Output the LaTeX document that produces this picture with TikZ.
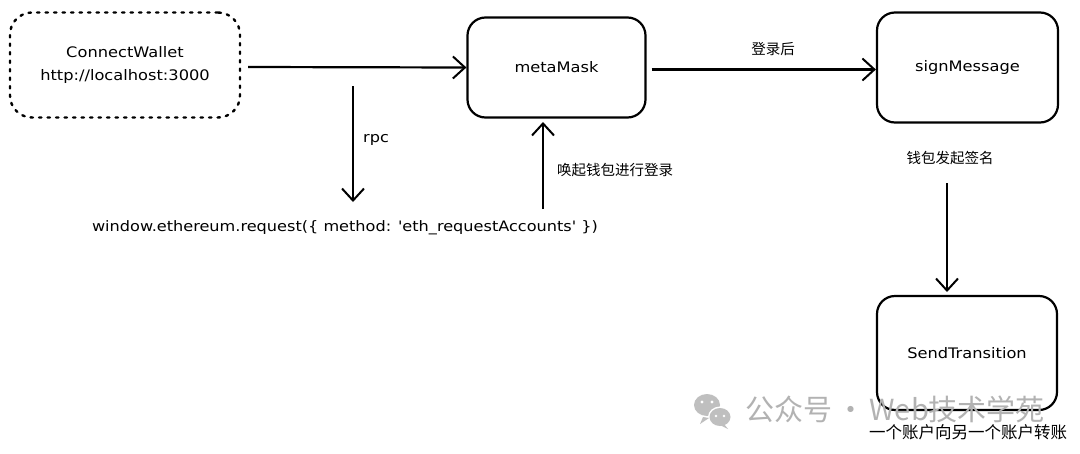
\documentclass[tikz,border=0pt]{standalone}
\usepackage{fontspec}
\newfontfamily\lat{DejaVu Sans}[FakeStretch=1.12]
\newfontfamily\cjk{Noto Sans CJK SC}
\usetikzlibrary{arrows.meta}
\tikzset{
  box/.style={draw, line width=2.2pt, rounded corners=18pt, minimum width=178pt, minimum height=100pt, font=\fontsize{14.5}{16}\selectfont\lat},
  dotbox/.style={draw, line width=2.4pt, dash pattern=on 2.5pt off 6pt, line cap=round, rounded corners=22pt, minimum width=230pt, minimum height=105pt, font=\fontsize{14.5}{23}\selectfont\lat, align=center},
  conn/.style={line width=2.2pt, -{Straight Barb[length=12pt,width=22pt,line width=2pt]}},
  lbl/.style={font=\fontsize{14.5}{16}\selectfont\cjk},
  code/.style={font=\fontsize{14.4}{16}\selectfont\lat},
  wm/.style={text=black!30, font=\fontsize{29}{30}\selectfont\cjk}
}
\begin{document}
\begin{tikzpicture}[x=1pt,y=-1pt]
\useasboundingbox (0,0) rectangle (1080,453);
\fill[white] (0,0) rectangle (1080,453);
% nodes
\node[dotbox] (cw) at (125,65) {ConnectWallet\\http://localhost:3000};
\node[box] (mm) at (556.5,67.5) {metaMask};
\node[box, minimum width=181pt, minimum height=110pt] (sm) at (967.5,67.5) {signMessage};
\node[box, minimum width=180pt, minimum height=114pt] (st) at (967,353) {SendTransition};
\node[code] (req) at (345,228) {window.ethereum.request(\{ method: 'eth\_requestAccounts' \})};
% label nodes
\node[lbl] (l1) at (773,49) {登录后};
\node[lbl] (l2) at (950,158) {钱包发起签名};
\node[code] (l3) at (376,140) {rpc};
\node[lbl] (l4) at (615,170) {唤起钱包进行登录};
\node[lbl, font=\fontsize{16.5}{18}\selectfont\cjk] (l5) at (968,432) {一个账户向另一个账户转账};
% connector anchors
\coordinate (rpcA) at (353,86);
\coordinate (rpcB) at (353,202);
\coordinate (upA) at (543,209);
\coordinate (upB) at (543,122);
\coordinate (dnA) at (947,183);
\coordinate (dnB) at (947,292);
% connectors
\draw[conn] (cw.east) ++(7,2) -- (mm.west);
\draw[conn] (mm.east) ++(5,2) -- ([yshift=-2pt]sm.west);
\draw[conn] (rpcA) -- (rpcB);
\draw[conn] (upA) -- (upB);
\draw[conn] (dnA) -- (dnB);
% watermark
\fill[black!25] (707,405) ellipse (13pt and 11pt);
\fill[white] (720,417) ellipse (12pt and 10.5pt);
\fill[black!25] (720,417) ellipse (10.5pt and 9pt);
\fill[black!25] (703,417) -- (700,424) -- (709,418) -- cycle;
\fill[black!25] (724,424) -- (728,429) -- (720,425) -- cycle;
\fill[white] (702,402) circle (1.6pt) (712,402) circle (1.6pt) (716,416) circle (1.4pt) (724,416) circle (1.4pt);
\node[wm, anchor=west] (wmk) at (742,409) {公众号\kern4pt·\kern4pt Web技术学苑};
\end{tikzpicture}
\end{document}
